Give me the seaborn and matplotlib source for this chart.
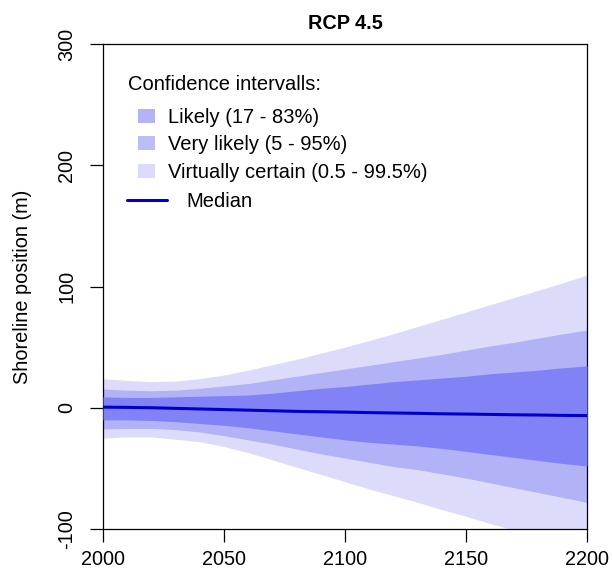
import numpy as np
import pandas as pd
import matplotlib
matplotlib.use("Agg")
import matplotlib.pyplot as plt
import seaborn as sns
from matplotlib.patches import Patch
from matplotlib.lines import Line2D

# ---- data ----
years = [2000, 2010, 2020, 2030, 2040, 2050, 2060, 2070, 2080, 2090, 2100,
         2110, 2120, 2130, 2140, 2150, 2160, 2170, 2180, 2190, 2200]
median = [0.5, 0.3, 0.0, -0.5, -1.0, -1.5, -2.0, -2.5, -3.0, -3.3, -3.6,
          -4.0, -4.3, -4.6, -5.0, -5.2, -5.5, -5.8, -6.0, -6.3, -6.5]
likely_lo = [-10, -10, -10.5, -11.5, -13, -14.5, -16.5, -19, -21.5, -24, -26.5,
             -28.5, -30, -31.5, -33.5, -36, -38.5, -41, -43.5, -46, -48]
likely_hi = [9, 8.5, 8.5, 9, 9.5, 10, 10.5, 12, 14, 16, 17.5,
             19.5, 21.5, 23, 24.5, 26, 28, 29.5, 31, 33, 34.5]
vlikely_lo = [-17.5, -17, -17, -18, -20, -23, -26.5, -30, -34, -38, -41.5,
              -45, -48.5, -51, -54.5, -58, -62, -66, -70, -74, -78]
vlikely_hi = [15.5, 14.5, 14, 14.5, 16, 18, 20, 23, 26, 29, 32,
              35, 38, 41, 44, 47.5, 51, 54, 57.5, 61, 64]
vcertain_lo = [-25, -24, -24, -26, -28, -32, -37, -43, -49, -55, -61,
               -67, -72.5, -78, -84, -89.5, -95.5, -101, -107, -113, -119]
vcertain_hi = [24, 22.5, 21.5, 22, 24, 27, 31, 35.5, 40, 45, 50,
               55.5, 61, 67, 73, 79, 85, 91, 97, 103, 109.5]

x_ticks = [2000, 2050, 2100, 2150, 2200]
y_ticks = [-100, 0, 100, 200, 300]
title = "RCP 4.5"
ylabel = "Shoreline position (m)"
legend_title = "Confidence intervalls:"
band_labels = ["Likely (17 - 83%)", "Very likely (5 - 95%)",
               "Virtually certain (0.5 - 99.5%)"]
median_label = "Median"

df = pd.DataFrame({"year": years, "median": median})

# ---- style ----
sns.set_style("ticks")
plt.rcParams["font.family"] = ["Liberation Sans", "DejaVu Sans"]
plt.rcParams["text.color"] = "black"
plt.rcParams["axes.labelcolor"] = "black"
plt.rcParams["xtick.color"] = "black"
plt.rcParams["ytick.color"] = "black"

c_vc = "#dcdcfa"
c_vl = "#b2b2f6"
c_l = "#8282f7"
c_med = "#0000c8"

fig = plt.figure(figsize=(6.12, 5.8), dpi=100)
ax = fig.add_axes([103 / 612, 1 - 529 / 580, (587 - 103) / 612, (529 - 44) / 580])

ax.fill_between(years, vcertain_lo, vcertain_hi, color=c_vc, lw=0, zorder=1)
ax.fill_between(years, vlikely_lo, vlikely_hi, color=c_vl, lw=0, zorder=2)
ax.fill_between(years, likely_lo, likely_hi, color=c_l, lw=0, zorder=3)
sns.lineplot(data=df, x="year", y="median", color=c_med, lw=2.2, ax=ax,
             zorder=4, legend=False)

ax.set_xlim(2000, 2200)
ax.set_ylim(-100, 300)
ax.set_xticks(x_ticks)
ax.set_yticks(y_ticks)
ax.set_xticklabels([str(v) for v in x_ticks], fontsize=14.3)
ax.set_yticklabels([str(v) for v in y_ticks], fontsize=14.3, rotation=90,
                   va="center")
ax.set_xlabel("")
ax.set_ylabel(ylabel, fontsize=14.3, labelpad=18)
ax.set_title(title, fontsize=14.3, fontweight="bold", pad=11)

for s in ax.spines.values():
    s.set_visible(True)
    s.set_color("black")
    s.set_linewidth(0.9)
ax.tick_params(axis="both", direction="out", length=9.4, width=0.9,
               color="black", labelcolor="black")
ax.tick_params(axis="x", pad=6)
ax.tick_params(axis="y", pad=10)

# ---- legend ----
fs = 14.5
fig.text(128 / 612, 1 - 84 / 580, legend_title, fontsize=fs, va="center",
         ha="left")
handles = [Patch(facecolor=c, edgecolor="none") for c in
           ["#b4b4f5", "#bdbdf6", "#dcdcfa"]]
leg1 = ax.legend(handles, band_labels, loc="upper left",
                 bbox_to_anchor=(138 / 612, 1 - 108 / 580),
                 bbox_transform=fig.transFigure, frameon=False, fontsize=fs,
                 handlelength=0.85, handleheight=0.7, handletextpad=0.62,
                 labelspacing=0.42, borderpad=0, borderaxespad=0)
ax.add_artist(leg1)
leg2 = ax.legend([Line2D([0], [0], color=c_med, lw=2.2)], [median_label],
                 loc="upper left",
                 bbox_to_anchor=(127 / 612, 1 - 192 / 580),
                 bbox_transform=fig.transFigure, frameon=False, fontsize=fs,
                 handlelength=2.0, handletextpad=0.95, borderpad=0,
                 borderaxespad=0)

fig.savefig("out.png", dpi=100)
